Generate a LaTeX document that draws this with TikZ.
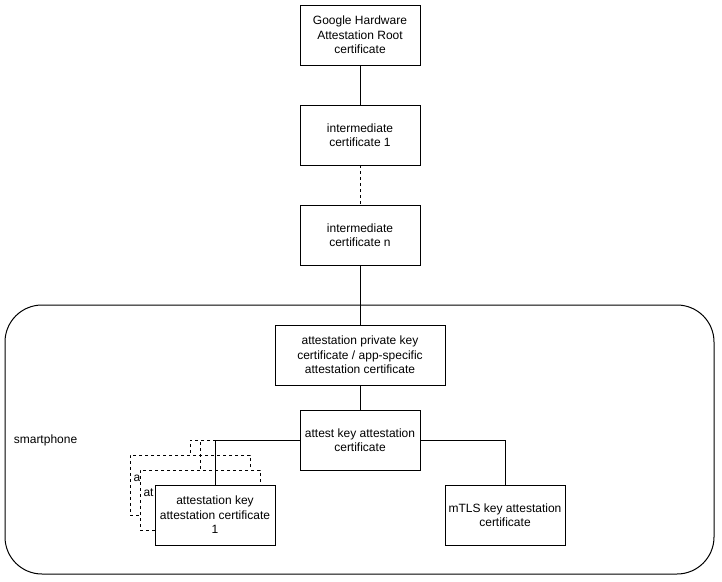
\documentclass[tikz,border=0pt]{standalone}
\usepackage{fontspec}
\setmainfont{Liberation Sans}
\usepackage{tikz}
\usetikzlibrary{positioning}

\begin{document}
\begin{tikzpicture}[x=1pt, y=-1pt, line width=1pt, font=\fontsize{12}{14.5}\selectfont,
  cert/.style={draw, fill=white, align=center, minimum width=120pt, minimum height=60pt, inner sep=2pt, outer sep=0pt},
  copycert/.style={cert, dashed},
  cut/.style={anchor=west, inner sep=3pt}]
\useasboundingbox (0,0) rectangle (722,581);
\draw[rounded corners=37pt] (5,305) rectangle (714,574);
\node[anchor=west] (phone) at (10,440) {smartphone};
\node[cert] (root) at (360,35) {Google Hardware\\Attestation Root\\certificate};
\node[cert, below=40pt of root] (int1) {intermediate\\certificate 1};
\node[cert, below=40pt of int1] (intn) {intermediate\\certificate n};
\node[cert, minimum width=170pt, below=60pt of intn] (priv) {attestation private key\\certificate / app-specific\\attestation certificate};
\node[cert, below=25pt of priv] (attest) {attest key attestation\\certificate};
\node[copycert] (copyB) at (190,485) {};
\node[cut] (copyBtext) at ([yshift=7pt]copyB.west) {a};
\node[copycert] (copyC) at (200,500) {};
\node[cut] (copyCtext) at ([yshift=7pt]copyC.west) {at};
\node[cert, below left=15pt and 25pt of attest] (front) {attestation key\\attestation certificate\\1};
\node[cert, below right=15pt and 25pt of attest] (mtls) {mTLS key attestation\\certificate};
\draw (root) -- (int1);
\draw[dashed] (int1) -- (intn);
\draw (intn) -- (priv);
\draw (priv) -- (attest);
\draw (attest) -| (mtls);
\draw[dashed] (attest) -| (copyB);
\draw[dashed] (attest) -| (copyC);
\draw (attest) -| (front);
\end{tikzpicture}
\end{document}
